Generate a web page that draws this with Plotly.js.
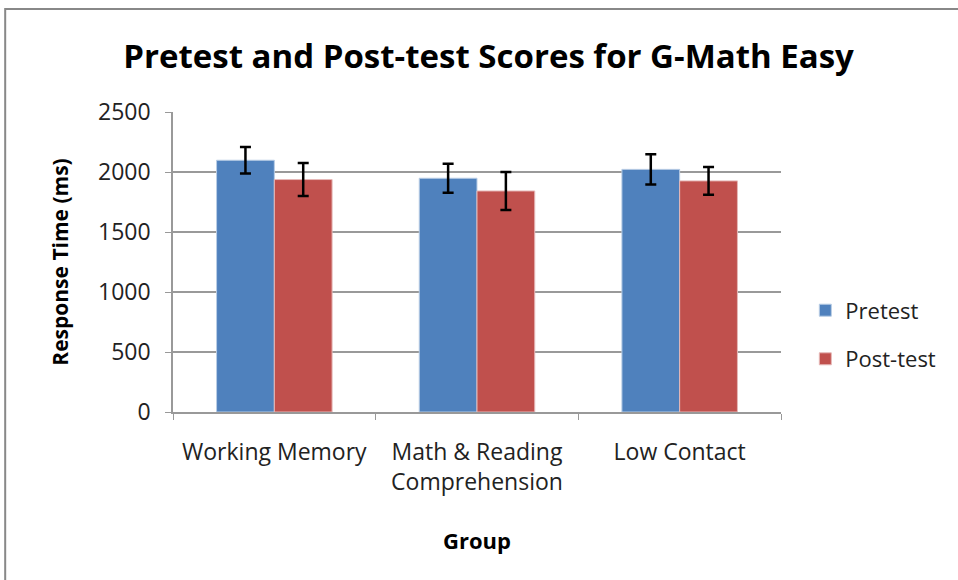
<!DOCTYPE html>
<html>
<head>
<meta charset="utf-8">
<script src="https://cdn.plot.ly/plotly-3.0.1.min.js"></script>
<style>
html,body{margin:0;padding:0;background:#fff;}
#chart{width:958px;height:580px;}
</style>
</head>
<body>
<div id="chart"></div>
<script>
const categories = ["Working Memory", "Math & Reading<br>Comprehension", "Low Contact"];
const seriesNames = ["Pretest", "Post-test"];
const pretest = [2098, 1948, 2022];
const pretestErr = [110, 121, 126];
const posttest = [1937, 1842, 1926];
const posttestErr = [138, 158, 116];
const yTicks = [0, 500, 1000, 1500, 2000, 2500];

const FONT = "Open Sans, Lato, sans-serif";
const err = (arr) => ({type: "data", array: arr, visible: true, color: "#000", thickness: 2.5, width: 5.5});

const traces = [
  {type: "bar", name: seriesNames[0], x: categories, y: pretest, error_y: err(pretestErr),
   marker: {color: "#4F81BD", line: {color: "#B9CDE5", width: 1}}, legendgroup: "a"},
  {type: "bar", name: seriesNames[1], x: categories, y: posttest, error_y: err(posttestErr),
   marker: {color: "#C0504D", line: {color: "#E6B9B8", width: 1}}, legendgroup: "b"}
];

const layout = {
  width: 958, height: 580,
  margin: {l: 173, r: 177, t: 112, b: 168, autoexpand: false},
  paper_bgcolor: "#fff", plot_bgcolor: "#fff",
  font: {family: FONT, color: "#222", size: 22},
  title: {text: "Pretest and Post-test Scores for G-Math Easy", font: {family: FONT, size: 33, color: "#000", weight: "bold"},
          x: 0.51, xanchor: "center", y: 0.903, yref: "container", yanchor: "middle"},
  barmode: "group", bargap: 0.43, bargroupgap: 0,
  xaxis: {type: "category", showline: true, linecolor: "#999", linewidth: 1.5, ticks: "outside", tickson: "boundaries",
          ticklen: 6, tickcolor: "#999", showgrid: false, tickfont: {family: FONT, size: 23, color: "#222"},
          ticklabelstandoff: 19,
          title: {text: "Group", font: {family: FONT, size: 22, color: "#000", weight: "bold"}, standoff: 37}},
  yaxis: {range: [0, 2500], tickvals: yTicks, showline: true, linecolor: "#999", linewidth: 1.5, ticks: "outside",
          ticklen: 6, tickcolor: "#999", gridcolor: "#999", gridwidth: 1.5, zeroline: false,
          tickfont: {family: FONT, size: 23, color: "#222"}, ticklabelstandoff: 10,
          title: {text: "Response Time (ms)", font: {family: FONT, size: 21, color: "#000", weight: "bold"}, standoff: 24}},
  showlegend: true,
  legend: {x: 1.04, xanchor: "left", y: 0.257, yanchor: "middle", font: {family: FONT, size: 22, color: "#222"},
           tracegroupgap: 17, bgcolor: "rgba(0,0,0,0)", itemwidth: 30},
  shapes: [{type: "rect", xref: "paper", yref: "paper", x0: -0.276, x1: 1.5, y0: -0.9, y1: 1.343,
            line: {color: "#888", width: 2}, fillcolor: "rgba(0,0,0,0)", layer: "below"}]
};

Plotly.newPlot("chart", traces, layout, {displayModeBar: false, responsive: false});
</script>
</body>
</html>
